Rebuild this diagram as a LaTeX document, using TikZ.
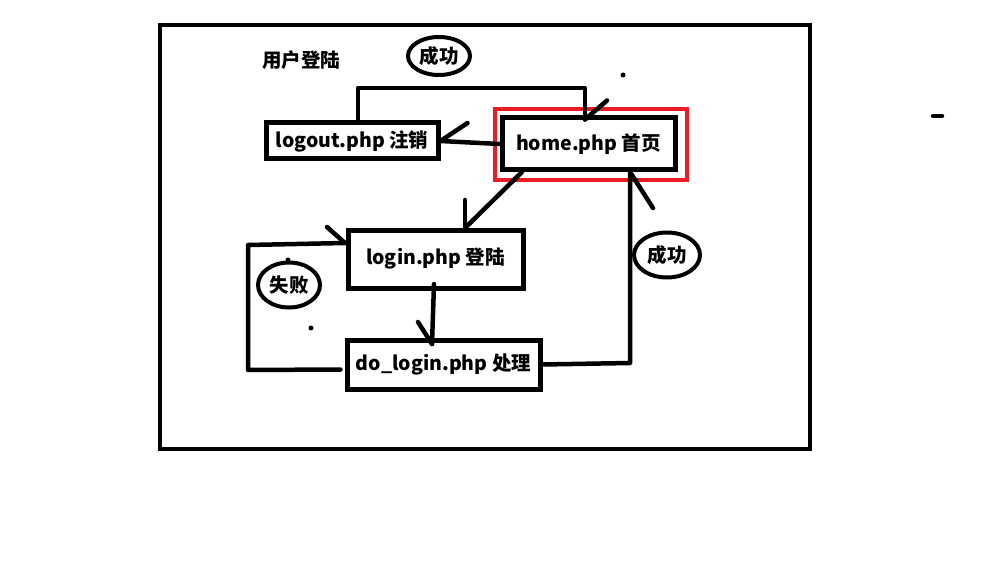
\documentclass[tikz,border=0pt]{standalone}
\usepackage{fontspec}
\setmainfont{Noto Sans CJK SC}
\usetikzlibrary{calc,shapes.geometric}
\definecolor{paintred}{RGB}{237,28,36}
\begin{document}
\begin{tikzpicture}[x=1pt,y=-1pt,
  txt/.style={font=\bfseries\fontsize{19.5}{22}\selectfont},
  box/.style={draw, rectangle, line width=5pt, inner sep=0pt, txt},
  lab/.style={draw, ellipse, line width=4pt, inner sep=0pt, txt},
  conn/.style={line width=4.5pt, line cap=round, line join=round},
  dot/.style={circle, fill, inner sep=0pt, minimum size=5pt}]
\useasboundingbox (0,0) rectangle (990,572);
% outer frame
\node[draw, rectangle, line width=4pt, minimum width=650pt, minimum height=424pt, inner sep=0pt] (frame) at (485,237) {};
% title
\node[txt] (title) at (301,60) {用户登陆};
% boxes
\node[box, minimum width=172pt, minimum height=36pt] (logout) at (352,141) {logout.php 注销};
\node[box, minimum width=173pt, minimum height=52pt] (home) at (588.5,144) {home.php 首页};
\node[draw=paintred, line width=4pt, rectangle, inner sep=0pt, minimum width=192pt, minimum height=71pt] (homeframe) at (591,144.5) {};
\node[box, minimum width=175pt, minimum height=58pt] (login) at (435.5,259) {login.php 登陆};
\node[box, minimum width=193pt, minimum height=49pt] (dologin) at (443.5,364.5) {do\_login.php 处理};
% labels
\node[lab, minimum width=62pt, minimum height=38pt] (ok1) at (439,56) {成功};
\node[lab, minimum width=66pt, minimum height=45pt] (ok2) at (667,255) {成功};
\node[lab, minimum width=62pt, minimum height=45pt] (fail) at (289,285) {失败};
% dots
\node[dot] (d1) at (623,75) {};
\node[dot] (d2) at (311,328) {};
\node[dot] (d3) at (288,260) {};
\coordinate (m1) at (933,116);
\coordinate (m2) at (942,116);
\draw[conn] (m1) -- (m2);
% logout -> home (top path)
\coordinate (tl) at (358,88);
\coordinate (tr) at (585,88);
\coordinate (hin) at ($(home.north)+(-3.5,4)$);
\draw[conn] ($(logout.north)+(6,0)$) -- (tl) -- (tr) -- (hin);
\draw[conn] (hin) -- ++(22,-19);
% home -> logout
\draw[conn] (home.west) -- (logout.east);
\draw[conn] (logout.east) -- ++(27,-18);
% home -> login
\coordinate (hs) at (522,172);
\coordinate (lt) at (465,228);
\draw[conn] (hs) -- (lt);
\draw[conn] (lt) -- ++(0,-28);
% login -> do_login
\coordinate (ls) at (434,284);
\coordinate (dt) at (432,344);
\draw[conn] (ls) -- (dt);
\draw[conn] (dt) -- ++(-14,-22);
% do_login -> home (success)
\coordinate (dr) at (630,363);
\coordinate (hb) at (630,172);
\draw[conn] (dologin.east) -- (dr) -- (hb);
\draw[conn] (hb) -- ++(23,36);
% do_login -> login (fail)
\coordinate (fb) at (248,370);
\coordinate (ft) at (248,245);
\coordinate (lin) at (345,243);
\draw[conn] ($(dologin.west)+(-4,5)$) -- (fb) -- (ft) -- (lin);
\draw[conn] (lin) -- ++(-18,-16);
\end{tikzpicture}
\end{document}
